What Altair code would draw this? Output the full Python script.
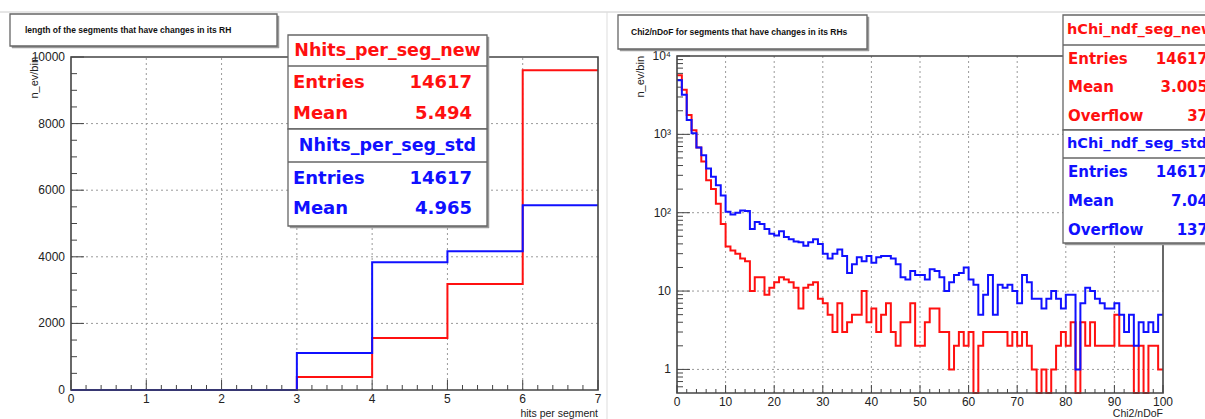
import altair as alt
import pandas as pd

# ---------------- data ----------------
hits_edges = [0, 1, 2, 3, 4, 5, 6, 7]
hits_new = [0, 0, 0, 390, 1560, 3180, 9600]
hits_std = [0, 0, 0, 1110, 3840, 4170, 5550]

chi_range = [0, 100]
chi_new = [5700, 3700, 1770, 1130, 680, 450, 260, 200, 130, 72,
           37, 33, 30, 26, 24, 10, 15, 15, 9, 11,
           13, 15, 14, 13, 11, 6, 11, 12, 13, 8,
           7, 5, 3, 7, 3, 4, 5, 5, 10, 4,
           6, 3, 5, 7, 3, 2, 4, 4, 7, 2,
           2, 4, 6, 6, 3, 3, 1, 2, 3, 2,
           3, 0, 2, 3, 3, 3, 3, 3, 2, 3,
           2, 3, 2, 1, 0, 1, 0, 1, 2, 3,
           2, 4, 0, 4, 2, 4, 2, 2, 2, 2,
           5, 2, 2, 2, 0, 2, 0, 2, 2, 1]
chi_std = [4900, 3200, 1520, 1030, 680, 540, 366, 287, 224, 166,
           103, 95, 100, 107, 105, 62, 76, 72, 62, 54,
           51, 58, 49, 46, 43, 42, 38, 42, 46, 40,
           30, 26, 30, 34, 28, 17, 22, 27, 24, 28,
           23, 27, 28, 28, 26, 22, 15, 14, 18, 16,
           16, 14, 19, 18, 15, 10, 13, 16, 17, 20,
           14, 12, 5, 9, 16, 5, 12, 11, 12, 10,
           7, 16, 13, 8, 8, 6, 8, 10, 8, 6,
           9, 9, 1, 7, 11, 10, 8, 7, 6, 6,
           7, 5, 3, 5, 2, 4, 3, 4, 3, 5]

hits_xticks = [0, 1, 2, 3, 4, 5, 6, 7]
hits_xlabels = ["0", "1", "2", "3", "4", "5", "6", "7"]
hits_yticks = [0, 2000, 4000, 6000, 8000, 10000]
hits_ylabels = ["0", "2000", "4000", "6000", "8000", "10000"]
chi_xticks = [0, 10, 20, 30, 40, 50, 60, 70, 80, 90, 100]
chi_xlabels = ["0", "10", "20", "30", "40", "50", "60", "70", "80", "90", "100"]
chi_yticks = [1, 10, 100, 1000, 10000]
chi_ylabels = ["1", "10", "10²", "10³", "10⁴"]

left_title = "length of the segments that have changes in its RH"
right_title = "Chi2/nDoF for segments that have changes in its RHs"
left_xtitle = "hits per segment"
right_xtitle = "Chi2/nDoF"
ytitle = "n_ev/bin"

left_stats = [
    ("Nhits_per_seg_new", [("Entries", "14617"), ("Mean", "5.494")]),
    ("Nhits_per_seg_std", [("Entries", "14617"), ("Mean", "4.965")]),
]
right_stats = [
    ("hChi_ndf_seg_new", [("Entries", "14617"), ("Mean", "3.005"), ("Overflow", "37")]),
    ("hChi_ndf_seg_std", [("Entries", "14617"), ("Mean", "7.04"), ("Overflow", "137")]),
]

RED = "#ff1010"
BLUE = "#1010ff"
FRAME = "#444444"
GRID = "#9a9a9a"
LABEL = "#222222"

# ---------------- frames (pixel geometry of the two pads) ----------------
LF = dict(x0=71, x1=598, y0=390, y1=57)
RF = dict(x0=677, x1=1163, y0=393, y1=56)

LX = alt.Scale(domain=[0, 7], range=[LF["x0"], LF["x1"]], nice=False, zero=False)
LY = alt.Scale(domain=[0, 10000], range=[LF["y0"], LF["y1"]], nice=False, zero=False)
RX = alt.Scale(domain=chi_range, range=[RF["x0"], RF["x1"]], nice=False, zero=False)
RY = alt.Scale(type="log", domain=[0.5, 10000], range=[RF["y0"], RF["y1"]], nice=False, clamp=True)

ONE = pd.DataFrame({"k": [0]})
layers = []


def step_df(edges, counts, floor=None):
    xs = list(edges[:len(counts)]) + [edges[len(counts)]]
    ns = list(counts) + [counts[-1]]
    df = pd.DataFrame({"x": xs, "n": ns})
    df["ny"] = df["n"].clip(lower=floor) if floor is not None else df["n"]
    return df


def vrect(x0, x1, y0, y1, fill="white", stroke="#555555", sw=1.2):
    return alt.Chart(ONE).mark_rect(fill=fill, stroke=stroke, strokeWidth=sw).encode(
        x=alt.value(x0), x2=alt.value(x1), y=alt.value(y0), y2=alt.value(y1))


def vline(x0, x1, y0, y1, color="#555555", sw=1.0):
    return alt.Chart(ONE).mark_rule(color=color, strokeWidth=sw).encode(
        x=alt.value(x0), x2=alt.value(x1), y=alt.value(y0), y2=alt.value(y1))


def vtext(s, x, y, **kw):
    return alt.Chart(ONE).mark_text(**kw).encode(
        x=alt.value(x), y=alt.value(y), text=alt.value(s))


# canvas decorations
layers.append(vline(0, 1205, 12, 12, color="#cccccc", sw=1))
layers.append(vline(607, 607, 12, 419, color="#dddddd", sw=1))


def pad(frame, xs, ys, xdom, ydom, xticks, xlabels, yticks, ylabels,
        xminor, yminor, xmaj, xmin_, ymaj, ymin_, xtitle):
    out = []
    # grid
    gx = pd.DataFrame({"v": [t for t in xticks if xdom[0] < t < xdom[1]]})
    gx["a"], gx["b"] = ydom[0], ydom[1]
    out.append(alt.Chart(gx).mark_rule(color=GRID, strokeDash=[2, 3], strokeWidth=1).encode(
        x=alt.X("v:Q", scale=xs, axis=None), y=alt.Y("a:Q", scale=ys, axis=None), y2="b:Q"))
    gy = pd.DataFrame({"v": [t for t in yticks if ydom[0] < t < ydom[1]]})
    gy["a"], gy["b"] = xdom[0], xdom[1]
    out.append(alt.Chart(gy).mark_rule(color=GRID, strokeDash=[2, 3], strokeWidth=1).encode(
        y=alt.Y("v:Q", scale=ys, axis=None), x=alt.X("a:Q", scale=xs, axis=None), x2="b:Q"))
    # ticks (inside the frame)
    for vals, ln in ((xticks, xmaj), (xminor, xmin_)):
        d = pd.DataFrame({"v": vals})
        out.append(alt.Chart(d).mark_rule(color=FRAME, strokeWidth=1).encode(
            x=alt.X("v:Q", scale=xs, axis=None),
            y=alt.value(frame["y0"]), y2=alt.value(frame["y0"] - ln)))
    for vals, ln in ((yticks, ymaj), (yminor, ymin_)):
        d = pd.DataFrame({"v": vals})
        out.append(alt.Chart(d).mark_rule(color=FRAME, strokeWidth=1).encode(
            y=alt.Y("v:Q", scale=ys, axis=None),
            x=alt.value(frame["x0"]), x2=alt.value(frame["x0"] + ln)))
    # tick labels
    d = pd.DataFrame({"v": xticks, "t": xlabels})
    out.append(alt.Chart(d).mark_text(baseline="top", fontSize=12, font="Liberation Sans",
                                      color=LABEL).encode(
        x=alt.X("v:Q", scale=xs, axis=None), y=alt.value(frame["y0"] + 4), text="t:N"))
    d = pd.DataFrame({"v": yticks, "t": ylabels})
    out.append(alt.Chart(d).mark_text(align="right", baseline="middle", fontSize=12,
                                      font="Liberation Sans", color=LABEL).encode(
        y=alt.Y("v:Q", scale=ys, axis=None), x=alt.value(frame["x0"] - 6), text="t:N"))
    # axis titles
    out.append(vtext(xtitle, frame["x1"], 414, align="right", baseline="middle",
                     fontSize=10.5, font="Liberation Sans", color=LABEL))
    out.append(vtext(ytitle, frame["x0"] - 36, frame["y1"], align="right", baseline="middle",
                     angle=270, fontSize=11, font="Liberation Sans", color=LABEL))
    return out


def frame_box(xs, ys, xdom, ydom):
    d = pd.DataFrame({"a": [xdom[0]], "b": [xdom[1]], "c": [ydom[0]], "e": [ydom[1]]})
    return alt.Chart(d).mark_rect(fill=None, stroke=FRAME, strokeWidth=1.6).encode(
        x=alt.X("a:Q", scale=xs, axis=None), x2="b:Q",
        y=alt.Y("c:Q", scale=ys, axis=None), y2="e:Q")


# ---------- left pad ----------
layers += pad(LF, LX, LY, [0, 7], [0, 10000], hits_xticks, hits_xlabels, hits_yticks, hits_ylabels,
              [i * 0.2 for i in range(36) if i % 5], [i * 500 for i in range(21) if i % 4],
              10, 5, 13, 6, left_xtitle)
for counts, col in ((hits_new, RED), (hits_std, BLUE)):
    layers.append(alt.Chart(step_df(hits_edges, counts)).mark_line(
        interpolate="step-after", color=col, strokeWidth=2).encode(
        x=alt.X("x:Q", scale=LX, axis=None), y=alt.Y("ny:Q", scale=LY, axis=None)))
layers.append(frame_box(LX, LY, [0, 7], [0, 10000]))

# ---------- right pad ----------
chi_edges = list(range(chi_range[0], chi_range[1] + 1))
log_minor = [0.6, 0.7, 0.8, 0.9] + [k * 10 ** e for e in range(4) for k in range(2, 10)]
layers += pad(RF, RX, RY, [0.0, 100.0], [0.5, 10000], chi_xticks, chi_xlabels, chi_yticks, chi_ylabels,
              [i * 2 for i in range(51) if i % 5], log_minor,
              8, 4, 13, 6, right_xtitle)
for counts, col in ((chi_new, RED), (chi_std, BLUE)):
    layers.append(alt.Chart(step_df(chi_edges, counts, floor=0.3)).mark_line(
        interpolate="step-after", color=col, strokeWidth=2).encode(
        x=alt.X("x:Q", scale=RX, axis=None), y=alt.Y("ny:Q", scale=RY, axis=None)))
layers.append(frame_box(RX, RY, [0, 100], [0.5, 10000]))

# ---------- title boxes ----------
for (x0, x1, y0, y1, s, tx) in ((10, 277, 14, 46, left_title, 25), (618, 867, 15, 49, right_title, 631)):
    layers.append(vrect(x0 + 2, x1 + 2, y0 + 2, y1 + 2, fill="#999999", stroke="#999999", sw=0.5))
    layers.append(vrect(x0, x1, y0, y1, fill="white", stroke="#666666", sw=1.3))
    layers.append(vtext(s, tx, (y0 + y1) / 2, align="left", baseline="middle", fontSize=8.5,
                        fontWeight="bold", font="Liberation Sans", color="#111111"))


# ---------- stats boxes ----------
def stats(spec, x0, x1, tops, hy, dy, rows_y, hsize, fsize, lx, vx, halign, hx):
    out = []
    for (name, rows), col, (y0, y1), h, d, ry in zip(spec, (RED, BLUE), tops, hy, dy, rows_y):
        out.append(vrect(x0 + 2, x1 + 2, y0 + 2, y1 + 2, fill="#999999", stroke="#999999", sw=0.5))
        out.append(vrect(x0, x1, y0, y1, fill="white", stroke="#666666", sw=1.3))
        out.append(vline(x0, x1, d, d, color="#666666", sw=1.3))
        out.append(vtext(name, hx, h, align=halign, baseline="middle", fontSize=hsize,
                         fontWeight="bold", font="DejaVu Sans", color=col))
        for (lab, val), yy in zip(rows, ry):
            out.append(vtext(lab, lx, yy, align="left", baseline="middle", fontSize=fsize,
                             fontWeight="bold", font="DejaVu Sans", color=col))
            out.append(vtext(val, vx, yy, align="right", baseline="middle", fontSize=fsize,
                             fontWeight="bold", font="DejaVu Sans", color=col))
    return out


layers += stats(left_stats, 288, 487, [(35, 129), (129, 226)], [51, 146], [66, 162],
                [[83, 114], [179, 209]], 17.5, 18, 293, 472, "center", 387.5)
layers += stats(right_stats, 1063, 1240, [(15, 130), (130, 243)], [30, 144], [45, 158],
                [[59, 87, 116], [172, 201, 230]], 14.5, 15, 1068, 1208, "left", 1067)

chart = alt.layer(*layers).resolve_scale(x="independent", y="independent").properties(
    width=1205, height=419, padding=0,
    autosize=alt.AutoSizeParams(type="none"), background="white"
).configure_view(stroke=None)

chart.save("out.html", embed_options={"renderer": "svg", "actions": False})
